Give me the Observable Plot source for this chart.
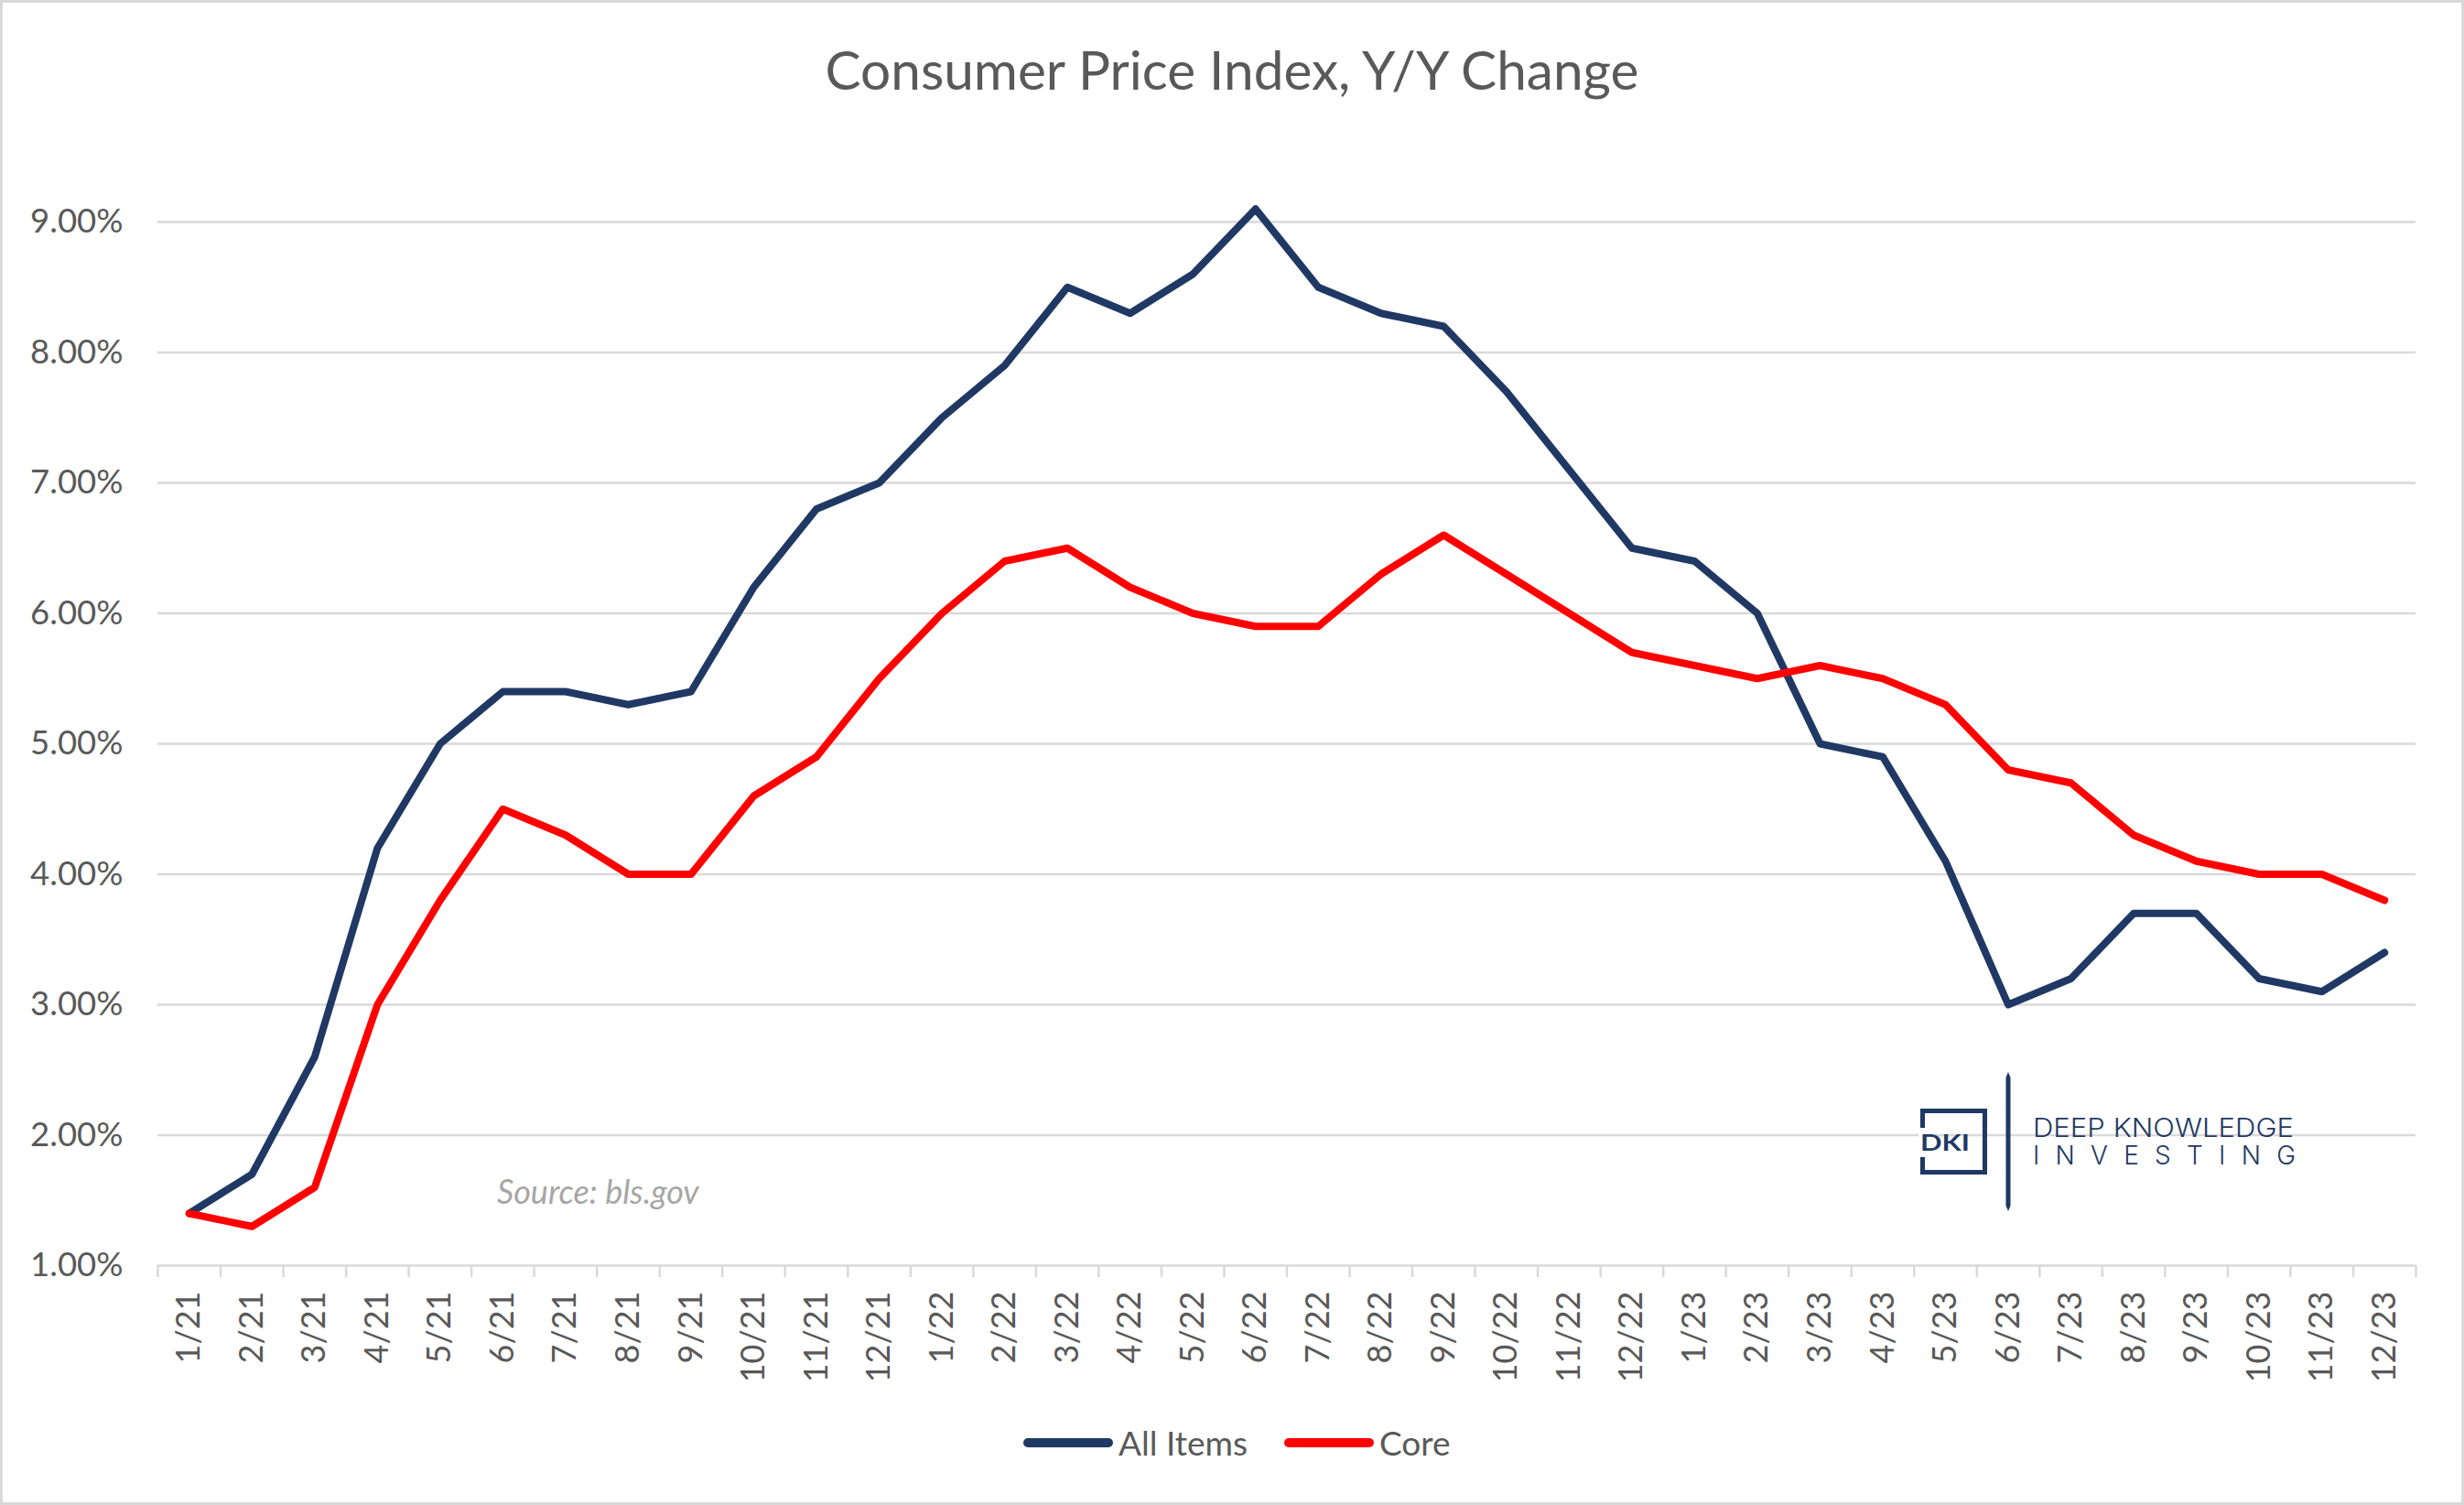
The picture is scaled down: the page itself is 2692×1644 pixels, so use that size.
<!DOCTYPE html>
<html>
<head>
<meta charset="utf-8">
<script src="https://cdn.jsdelivr.net/npm/d3@7"></script>
<script src="https://cdn.jsdelivr.net/npm/@observablehq/plot@0.6"></script>
<style>
  html, body { margin: 0; padding: 0; background: #fff; }
  #wrap { position: relative; width: 2692px; height: 1644px; overflow: hidden; background: #fff;
          font-family: Lato, "Open Sans", sans-serif; }
  #border { position: absolute; left: 0; top: 0; width: 2692px; height: 1644px; box-sizing: border-box;
            border: 3px solid #d9d9d9; pointer-events: none; z-index: 10; }
  #title { position: absolute; left: 0; top: 46px; width: 2692px; text-align: center;
           font-size: 58.5px; line-height: 58.5px; color: #595959; }
  #chart { position: absolute; left: 0; top: 180px; }
  #source { position: absolute; left: 543px; top: 1283px; font-size: 36px; line-height: 36px;
            font-style: italic; color: #a6a6a6; white-space: nowrap; }
  #logo { position: absolute; left: 2080px; top: 1160px; }
  #legend { position: absolute; left: 1118px; top: 1554px; display: flex; align-items: flex-start; }
  .item { display: flex; align-items: flex-start; margin-right: 40px; }
  .item span { font-size: 37px; line-height: 44px; color: #595959; margin-left: 6px; white-space: nowrap; }
</style>
</head>
<body>
<div id="wrap">
  <div id="title">Consumer Price Index, Y/Y Change</div>
  <div id="chart"></div>
  <div id="source">Source: bls.gov</div>
  <svg id="logo" width="460" height="180" viewBox="0 0 460 180">
    <rect x="20.5" y="53.5" width="68" height="67" fill="none" stroke="#1f3864" stroke-width="5"></rect>
    <rect x="16" y="72" width="10" height="32" fill="#fff"></rect>
    <text x="18" y="97" font-family="Lato, sans-serif" font-weight="bold" font-size="25" fill="#1f3864" textLength="54" lengthAdjust="spacingAndGlyphs">DKI</text>
    <polygon points="114,11 116.5,17 116.5,157 114,163 111.5,157 111.5,17" fill="#1f3864"></polygon>
    <text x="141" y="82" font-family="Inter, Lato, sans-serif" font-weight="300" font-size="28" fill="#1f3864" textLength="285" lengthAdjust="spacingAndGlyphs">DEEP KNOWLEDGE</text>
    <text x="141" y="112" font-family="Inter, Lato, sans-serif" font-weight="300" font-size="28" fill="#1f3864" textLength="287" lengthAdjust="spacing">INVESTING</text>
  </svg>
  <div id="legend"></div>
  <div id="border"></div>
</div>
<script>
const months = ["1/21","2/21","3/21","4/21","5/21","6/21","7/21","8/21","9/21","10/21","11/21","12/21",
                "1/22","2/22","3/22","4/22","5/22","6/22","7/22","8/22","9/22","10/22","11/22","12/22",
                "1/23","2/23","3/23","4/23","5/23","6/23","7/23","8/23","9/23","10/23","11/23","12/23"];
const allItems = [1.4,1.7,2.6,4.2,5.0,5.4,5.4,5.3,5.4,6.2,6.8,7.0,
                  7.5,7.9,8.5,8.3,8.6,9.1,8.5,8.3,8.2,7.7,7.1,6.5,
                  6.4,6.0,5.0,4.9,4.1,3.0,3.2,3.7,3.7,3.2,3.1,3.4];
const core = [1.4,1.3,1.6,3.0,3.8,4.5,4.3,4.0,4.0,4.6,4.9,5.5,
              6.0,6.4,6.5,6.2,6.0,5.9,5.9,6.3,6.6,6.3,6.0,5.7,
              5.6,5.5,5.6,5.5,5.3,4.8,4.7,4.3,4.1,4.0,4.0,3.8];
const yTicks = [1,2,3,4,5,6,7,8,9];
const seriesNames = ["All Items","Core"];
const seriesColors = ["#203864","#ff0000"];

const rows = [];
months.forEach((m, i) => {
  rows.push({month: m, value: allItems[i], series: seriesNames[0]});
});
months.forEach((m, i) => {
  rows.push({month: m, value: core[i], series: seriesNames[1]});
});

const W = 2692, mL = 172, mR = 53, mT = 62, mB = 140, H = 1342;
const step = (W - mL - mR) / months.length;
const grid = "#d9d9d9";

const chart = Plot.plot({
  width: W, height: H,
  marginLeft: mL, marginRight: mR, marginTop: mT, marginBottom: mB,
  style: {fontFamily: "Lato, 'Open Sans', sans-serif", color: "#595959", background: "transparent", overflow: "visible"},
  x: {type: "point", domain: months, padding: 0.5, align: 0.5, round: false, label: null},
  y: {domain: [yTicks[0], yTicks[yTicks.length - 1]], label: null},
  color: {domain: seriesNames, range: seriesColors},
  marks: [
    Plot.ruleY(yTicks, {y: d => d, stroke: grid, strokeWidth: 2.5}),
    Plot.ruleX(months, {x: d => d, y1: () => yTicks[0], y2: () => yTicks[0], insetBottom: -13, dx: -step / 2, stroke: grid, strokeWidth: 2.5}),
    Plot.ruleX(months.slice(-1), {x: d => d, y1: () => yTicks[0], y2: () => yTicks[0], insetBottom: -13, dx: step / 2, stroke: grid, strokeWidth: 2.5}),
    Plot.axisY({ticks: yTicks, tickSize: 0, tickPadding: 38, tickFormat: d => d.toFixed(2) + "%", fontSize: 36.5}),
    Plot.axisX({tickSize: 0, tickRotate: -90, tickPadding: 28, fontSize: 36}),
    Plot.lineY(rows, {x: "month", y: "value", stroke: "series", z: "series", strokeWidth: 8,
                      strokeLinejoin: "round", strokeLinecap: "round"})
  ]
});
document.getElementById("chart").appendChild(chart);

const legend = document.getElementById("legend");
seriesNames.forEach((name, i) => {
  const item = document.createElement("div");
  item.className = "item";
  item.innerHTML = `<svg width="98" height="44"><line x1="5" x2="93" y1="22" y2="22" stroke="${seriesColors[i]}" stroke-width="10" stroke-linecap="round"/></svg><span>${name}</span>`;
  legend.appendChild(item);
});
</script>
</body>
</html>
